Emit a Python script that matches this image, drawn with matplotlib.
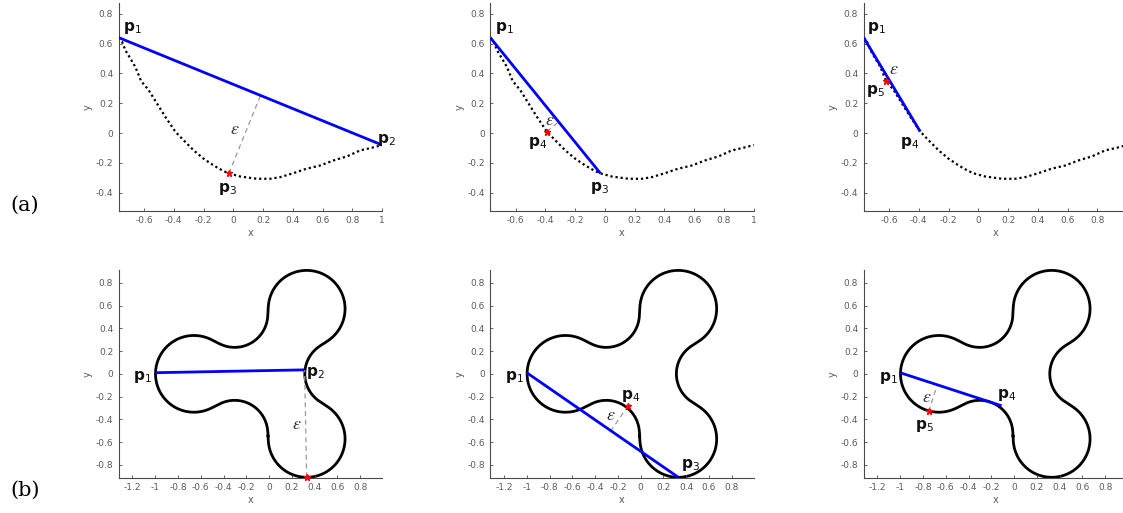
import numpy as np
import matplotlib
matplotlib.use("Agg")
import matplotlib.pyplot as plt
from matplotlib.ticker import FuncFormatter, MultipleLocator, FixedLocator

plt.rcParams["axes.unicode_minus"] = False

# ---- row (a): sampled open curve -------------------------------------------
curve_x = [-0.77, -0.747, -0.725, -0.691, -0.658, -0.62, -0.568, -0.512, -0.456,
           -0.39, -0.333, -0.266, -0.199, -0.132, -0.065, -0.03, 0.047, 0.159,
           0.248, 0.315, 0.405, 0.49, 0.584, 0.673, 0.763, 0.852, 0.931, 1.0]
curve_y = [0.64, 0.611, 0.555, 0.499, 0.443, 0.35, 0.287, 0.197, 0.108,
           0.01, -0.049, -0.116, -0.172, -0.217, -0.255, -0.27, -0.291, -0.306,
           -0.306, -0.295, -0.268, -0.239, -0.217, -0.183, -0.156, -0.116, -0.098, -0.08]

a_p1 = (-0.77, 0.64)
a_p2 = (1.0, -0.08)
a_p3 = (-0.03, -0.27)
a_p4 = (-0.39, 0.01)
a_p5 = (-0.62, 0.35)

# ---- row (b): closed three-lobed curve built from circular arcs ------------
lobe_angles = [-60, 60, 180]     # degrees, lobe centre directions
lobe_dist = 0.66
lobe_radius = 0.34
neck_dist = 0.604
neck_radius = 0.294
blend_width = 0.045              # softening of the lobe/neck joins

b_p1 = (-1.0, 0.01)
b_p2 = (0.31, 0.035)
b_p3 = (0.33, -0.908)
b_p4 = (-0.11, -0.28)
b_p5 = (-0.75, -0.33)

BLUE = "#0000ff"
GREY = "#9a9a9a"
TICK = "#5a5a5a"


def unit(deg):
    r = np.deg2rad(deg)
    return np.array([np.cos(r), np.sin(r)])


def three_lobe_outline():
    pts = []
    for a in lobe_angles:
        L = lobe_dist * unit(a)
        n_prev = neck_dist * unit(a - 60)
        n_next = neck_dist * unit(a + 60)
        ts = np.arctan2(*(n_prev - L)[::-1])
        te = np.arctan2(*(n_next - L)[::-1])
        while te <= ts:
            te += 2 * np.pi
        t = np.linspace(ts, te, 400)
        pts.append(np.c_[L[0] + lobe_radius * np.cos(t), L[1] + lobe_radius * np.sin(t)])
        # neck between this lobe and the next one (traversed clockwise)
        b = a + 60
        N = neck_dist * unit(b)
        l_prev = lobe_dist * unit(b - 60)
        l_next = lobe_dist * unit(b + 60)
        ss = np.arctan2(*(l_prev - N)[::-1])
        se = np.arctan2(*(l_next - N)[::-1])
        while se >= ss:
            se -= 2 * np.pi
        s = np.linspace(ss, se, 200)
        pts.append(np.c_[N[0] + neck_radius * np.cos(s), N[1] + neck_radius * np.sin(s)])
    return np.vstack(pts)


def soften_closed(pts, sigma, n=3000):
    closed = np.vstack([pts, pts[:1]])
    seg = np.r_[0, np.cumsum(np.hypot(*np.diff(closed, axis=0).T))]
    total = seg[-1]
    s = np.linspace(0, total, n, endpoint=False)
    x = np.interp(s, seg, closed[:, 0])
    y = np.interp(s, seg, closed[:, 1])
    ds = total / n
    k = int(4 * sigma / ds)
    off = np.arange(-k, k + 1)
    w = np.exp(-0.5 * (off * ds / sigma) ** 2)
    w /= w.sum()
    xs = np.zeros(n)
    ys = np.zeros(n)
    for o, wi in zip(off, w):
        xs += wi * np.roll(x, -o)
        ys += wi * np.roll(y, -o)
    return np.r_[xs, xs[:1]], np.r_[ys, ys[:1]]


def foot(p, a, b):
    p, a, b = map(np.asarray, (p, a, b))
    d = b - a
    return a + np.dot(p - a, d) / np.dot(d, d) * d


def fmt(v, _):
    v = round(v, 2)
    if v == 0:
        return "0"
    return f"{v:g}"


def style(ax, xlim, ylim, xticks=None):
    ax.set_xlim(*xlim)
    ax.set_ylim(*ylim)
    for s in ("top", "right"):
        ax.spines[s].set_visible(False)
    for s in ("left", "bottom"):
        ax.spines[s].set_color("#4a4a4a")
        ax.spines[s].set_linewidth(0.8)
    if xticks is None:
        ax.xaxis.set_major_locator(MultipleLocator(0.2))
    else:
        ax.xaxis.set_major_locator(FixedLocator(xticks))
    ax.yaxis.set_major_locator(MultipleLocator(0.2))
    ax.xaxis.set_major_formatter(FuncFormatter(fmt))
    ax.yaxis.set_major_formatter(FuncFormatter(fmt))
    ax.tick_params(direction="in", length=2.5, width=0.6, colors="#4a4a4a",
                   labelsize=6.5, labelcolor=TICK, pad=4)
    ax.set_xlabel("x", fontsize=7, color=TICK, labelpad=2)
    ax.set_ylabel("y", fontsize=7, color=TICK, labelpad=2)


def plabel(ax, x, y, idx):
    ax.text(x, y, r"$\mathbf{p}_{%d}$" % idx, fontsize=11, ha="center",
            va="center", color="#111111")


def eps(ax, x, y):
    ax.text(x, y, r"$\varepsilon$", fontsize=13, ha="center", va="center",
            color="#333333", math_fontfamily="stix")


def chord(ax, a, b):
    ax.plot([a[0], b[0]], [a[1], b[1]], color=BLUE, lw=2.0, solid_capstyle="butt", zorder=3)


def deviation(ax, p, a, b):
    f = foot(p, a, b)
    ax.plot([p[0], f[0]], [p[1], f[1]], color=GREY, lw=0.9, dashes=(4, 3), zorder=2)
    ax.plot([p[0]], [p[1]], marker="*", ms=5, color="red", zorder=4, clip_on=False)


W, H = 1123, 513
fig = plt.figure(figsize=(W / 100, H / 100), dpi=100)

lefts = [118.7, 490.3, 863.7]
width = 263.5
top_rows = [(3.3, 210.7), (270.0, 477.7)]


def make_ax(col, row):
    t, b = top_rows[row]
    return fig.add_axes([lefts[col] / W, (H - b) / H, width / W, (b - t) / H])


xlim_a, ylim_a = (-0.77, 1.0), (-0.52, 0.87)
xlim_b, ylim_b = (-1.32, 0.993), (-0.912, 0.912)

# ---- row (a) ----
axes_a = [make_ax(i, 0) for i in range(3)]
for i, ax in enumerate(axes_a):
    ticks = None if i < 2 else [-0.6, -0.4, -0.2, 0, 0.2, 0.4, 0.6, 0.8]
    style(ax, xlim_a, ylim_a, ticks)
    ax.plot(curve_x, curve_y, color="black", lw=1.6, linestyle=(0, (1, 1.3)), zorder=1)

ax = axes_a[0]
chord(ax, a_p1, a_p2)
deviation(ax, a_p3, a_p1, a_p2)
plabel(ax, -0.68, 0.705, 1)
plabel(ax, 1.03, -0.045, 2)
plabel(ax, -0.04, -0.375, 3)
eps(ax, 0.01, 0.03)

ax = axes_a[1]
chord(ax, a_p1, a_p3)
deviation(ax, a_p4, a_p1, a_p3)
plabel(ax, -0.675, 0.705, 1)
plabel(ax, -0.04, -0.365, 3)
plabel(ax, -0.45, -0.065, 4)
eps(ax, -0.37, 0.085)

ax = axes_a[2]
chord(ax, a_p1, a_p4)
deviation(ax, a_p5, a_p1, a_p4)
plabel(ax, -0.685, 0.705, 1)
plabel(ax, -0.69, 0.28, 5)
plabel(ax, -0.46, -0.065, 4)
eps(ax, -0.565, 0.43)

# ---- row (b) ----
ox, oy = soften_closed(three_lobe_outline(), blend_width)
axes_b = [make_ax(i, 1) for i in range(3)]
for ax in axes_b:
    style(ax, xlim_b, ylim_b)
    ax.plot(ox, oy, color="black", lw=2.0, zorder=1, clip_on=False)

ax = axes_b[0]
chord(ax, b_p1, b_p2)
deviation(ax, b_p3, b_p1, b_p2)
plabel(ax, -1.11, -0.025, 1)
plabel(ax, 0.41, 0.01, 2)
eps(ax, 0.24, -0.44)

ax = axes_b[1]
chord(ax, b_p1, b_p3)
deviation(ax, b_p4, b_p1, b_p3)
plabel(ax, -1.11, -0.03, 1)
plabel(ax, -0.085, -0.195, 4)
plabel(ax, 0.44, -0.80, 3)
eps(ax, -0.26, -0.365)

ax = axes_b[2]
chord(ax, b_p1, b_p4)
deviation(ax, b_p5, b_p1, b_p4)
plabel(ax, -1.10, -0.035, 1)
plabel(ax, -0.07, -0.185, 4)
plabel(ax, -0.785, -0.455, 5)
eps(ax, -0.77, -0.205)

# ---- panel row tags ----
fig.text(25 / W, 1 - 205 / H, "(a)", fontsize=15, family="DejaVu Serif",
         ha="center", va="center")
fig.text(25 / W, 1 - 490 / H, "(b)", fontsize=15, family="DejaVu Serif",
         ha="center", va="center")

fig.savefig("out.png", dpi=100)
